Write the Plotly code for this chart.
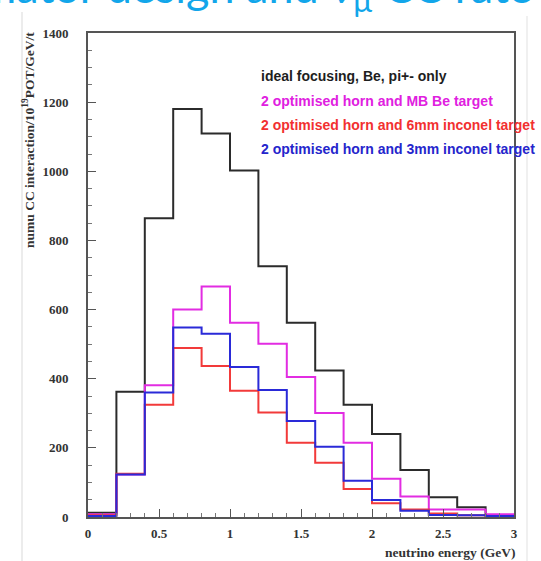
import plotly.graph_objects as go

# ---------------- data ----------------
bin_edges = [0.0, 0.2, 0.4, 0.6, 0.8, 1.0, 1.2, 1.4, 1.6, 1.8, 2.0, 2.2, 2.4, 2.6, 2.8, 3.0]
ideal_be = [12, 362, 864, 1180, 1109, 1002, 725, 562, 424, 325, 240, 136, 57, 28, 6]
horn_mb_be = [8, 123, 381, 600, 667, 562, 501, 405, 301, 215, 111, 59, 22, 22, 8]
horn_6mm_inconel = [5, 125, 325, 489, 437, 365, 302, 215, 157, 81, 40, 22, 10, 5, 3]
horn_3mm_inconel = [3, 123, 360, 548, 530, 434, 367, 278, 203, 105, 49, 18, 6, 5, 3]

series_names = [
    "ideal focusing, Be, pi+- only",
    "2 optimised horn and MB Be target",
    "2 optimised horn and 6mm inconel target",
    "2 optimised horn and 3mm inconel target",
]
series_values = [ideal_be, horn_mb_be, horn_6mm_inconel, horn_3mm_inconel]
series_colors = ["#2b2b2b", "#e22ce2", "#f23a3a", "#2a2ad8"]
text_colors = ["#1e1e1e", "#e020e0", "#f23030", "#2525cc"]

y_ticks = [0, 200, 400, 600, 800, 1000, 1200, 1400]
x_ticks = [0, 0.5, 1, 1.5, 2, 2.5, 3]
x_tick_text = ["0", "0.5", "1", "1.5", "2", "2.5", "3"]

W, H = 541, 561
L, R, T, B = 88, 27, 33, 44
PW, PH = W - L - R, H - T - B

def px_x(px):
    return (px - L) / PW

def px_y(py):
    return 1 - (py - T) / PH

fig = go.Figure()
for name, vals, col in zip(series_names, series_values, series_colors):
    fig.add_trace(go.Scatter(
        x=bin_edges, y=vals + [vals[-1]], mode="lines", name=name,
        line=dict(color=col, width=2, shape="hv"), showlegend=False,
        hoverinfo="skip"))

serif = "Liberation Serif"
annotations = []
# legend-like text
legend_y = [76, 100.5, 125, 149]
for name, col, yy in zip(series_names, text_colors, legend_y):
    annotations.append(dict(
        text=name, xref="paper", yref="paper", x=px_x(259), y=px_y(yy),
        xanchor="left", yanchor="middle", showarrow=False,
        font=dict(family="Liberation Sans", size=14, color=col, weight="bold")))

# y-axis title
annotations.append(dict(
    text="numu CC interaction/10<sup>19</sup>POT/GeV/t", textangle=-90,
    xref="paper", yref="paper", x=px_x(29), y=px_y(30),
    xanchor="center", yanchor="top", showarrow=False,
    font=dict(family=serif, size=13.5, color="#333333", weight="bold")))
# x-axis title
annotations.append(dict(
    text="neutrino energy (GeV)", xref="paper", yref="paper",
    x=px_x(517), y=px_y(552), xanchor="right", yanchor="middle", showarrow=False,
    font=dict(family=serif, size=13.5, color="#333333", weight="bold")))
# slide title (cut off at the top)
annotations.append(dict(
    text="Collimator design and ν<sub>μ</sub> CC rate", xref="paper", yref="paper",
    x=px_x(535), y=px_y(21), xanchor="right", yanchor="bottom", showarrow=False,
    font=dict(family="Lato", size=45, color="#12a6ea")))

shapes = [
    dict(type="line", xref="paper", yref="paper", x0=px_x(22), x1=px_x(22),
         y0=px_y(12), y1=px_y(561), line=dict(color="#ececec", width=2)),
    dict(type="line", xref="paper", yref="paper", x0=px_x(527), x1=px_x(527),
         y0=px_y(16), y1=px_y(561), line=dict(color="#f0f0f0", width=2)),
]

tfont = dict(family=serif, size=13, color="#333333", weight="bold")
fig.update_layout(
    width=W, height=H, autosize=False,
    margin=dict(l=L, r=R, t=T, b=B, pad=0),
    paper_bgcolor="white", plot_bgcolor="white",
    annotations=annotations, shapes=shapes,
    xaxis=dict(range=[0, 3], tickvals=x_ticks, ticktext=x_tick_text,
               ticks="inside", ticklen=8, tickwidth=1, tickcolor="#555555",
               minor=dict(dtick=0.1, ticks="inside", ticklen=4, tickcolor="#777777"),
               showgrid=False, zeroline=False, showline=True, linecolor="#555555",
               linewidth=2, mirror=True, ticklabelstandoff=3, tickfont=tfont),
    yaxis=dict(range=[0, 1400], tickvals=y_ticks,
               ticks="inside", ticklen=8, tickwidth=1, tickcolor="#555555",
               minor=dict(dtick=50, ticks="inside", ticklen=4, tickcolor="#777777"),
               showgrid=False, zeroline=False, showline=True, linecolor="#555555",
               linewidth=2, mirror=True, ticklabelstandoff=15, tickfont=tfont),
)

fig.write_html("out.html")
